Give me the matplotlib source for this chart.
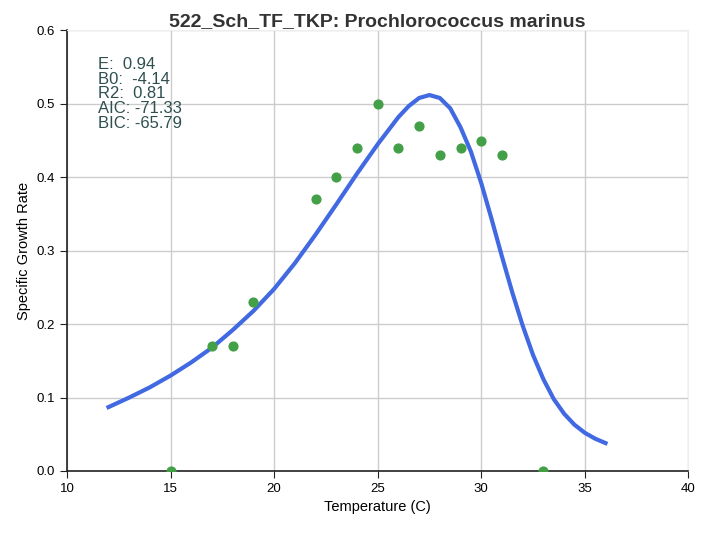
import matplotlib
matplotlib.use("Agg")
import matplotlib.pyplot as plt

plt.rcParams['font.family'] = ['Liberation Sans', 'DejaVu Sans']

# observed data
temps = [15, 17, 18, 19, 22, 23, 24, 25, 26, 27, 28, 29, 30, 31, 33]
rates = [0.0, 0.17, 0.17, 0.23, 0.37, 0.40, 0.44, 0.50, 0.44, 0.47, 0.43, 0.44, 0.45, 0.43, 0.0]

# fitted curve
fit_t = [12, 13, 14, 15, 16, 17, 18, 19, 20, 21, 22, 23, 24, 25, 26, 26.5, 27, 27.5,
         28, 28.5, 29, 29.5, 30, 30.5, 31, 31.5, 32, 32.5, 33, 33.5, 34, 34.5, 35, 35.5, 36]
fit_r = [0.087, 0.100, 0.114, 0.130, 0.148, 0.168, 0.192, 0.218, 0.248, 0.283, 0.322,
         0.363, 0.405, 0.445, 0.482, 0.497, 0.508, 0.512, 0.508, 0.494, 0.468, 0.435,
         0.392, 0.343, 0.292, 0.243, 0.198, 0.158, 0.125, 0.098, 0.078, 0.063, 0.052,
         0.044, 0.038]

stats = "E:  0.94\nB0:  -4.14\nR2:  0.81\nAIC: -71.33\nBIC: -65.79"

fig, ax = plt.subplots(figsize=(7.06, 5.34), dpi=100)
ax.grid(True, color='#cccccc', linewidth=1)
ax.set_axisbelow(True)
ax.plot(fit_t, fit_r, color='#4169e1', linewidth=3)
ax.scatter(temps, rates, color='#43a047', s=40, zorder=3)

for s in ['top', 'right']:
    ax.spines[s].set_color('#eeeeee')
for s in ['left', 'bottom']:
    ax.spines[s].set_color('#222222')
    ax.spines[s].set_linewidth(1.2)
ax.tick_params(labelsize=9.5, length=5, color='#222222')
ax.set_xlim(10, 40)
ax.set_ylim(0, 0.6)
ax.set_xticks(range(10, 41, 5))
ax.set_yticks([0.0, 0.1, 0.2, 0.3, 0.4, 0.5, 0.6])
ax.set_yticklabels(['0.0', '0.1', '0.2', '0.3', '0.4', '0.5', '0.6'])
ax.set_xlabel('Temperature (C)', fontsize=10.5)
ax.set_ylabel('Specific Growth Rate', fontsize=10.5)
ax.set_title('522_Sch_TF_TKP: Prochlorococcus marinus', fontsize=14,
             fontweight='bold', color='#333333', pad=3)
ax.text(0.05, 0.94, stats, transform=ax.transAxes, va='top', ha='left',
        fontsize=12, color='#2f4f4f', linespacing=0.98)

plt.subplots_adjust(left=0.095, right=0.975, top=0.943, bottom=0.118)
plt.savefig('out.png')
plt.close()
